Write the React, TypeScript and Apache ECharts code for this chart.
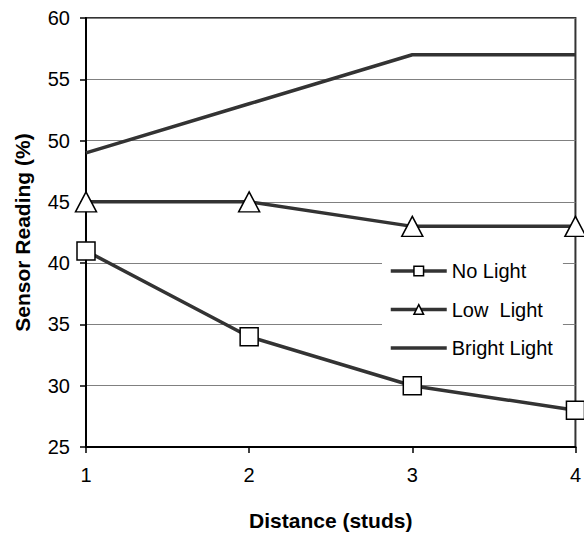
import React, { useEffect, useRef } from "react";
import * as echarts from "echarts";

const distances = ["1", "2", "3", "4"];
const noLight = [41, 34, 30, 28];
const lowLight = [45, 45, 43, 43];
const brightLight = [49, 53, 57, 57];
const yTicks = { min: 25, max: 60, interval: 5 };

const FONT = "'Liberation Sans', Arial, sans-serif";
const LINE = "#333333";

export default function App() {
  const ref = useRef<HTMLDivElement>(null);
  useEffect(() => {
    if (!ref.current) return;
    const chart = echarts.init(ref.current, null, { renderer: "svg" });
    const markerStyle = { color: "#ffffff", borderColor: "#000000", borderWidth: 1.5 };
    chart.setOption({
      animation: false,
      backgroundColor: "#ffffff",
      textStyle: { fontFamily: FONT },
      grid: {
        left: 86,
        right: 4,
        top: 18,
        bottom: 85,
        show: true,
        borderColor: "#333333",
        borderWidth: 2,
        backgroundColor: "transparent",
      },
      legend: {
        orient: "vertical",
        left: 382,
        top: 253,
        backgroundColor: "#ffffff",
        padding: [8, 10, 8, 7],
        itemWidth: 56,
        itemHeight: 12,
        itemGap: 18.5,
        lineStyle: { width: 3.5, color: LINE },
        itemStyle: { color: "#ffffff", borderColor: "#000000", borderWidth: 1.5 },
        textStyle: { fontSize: 20, color: "#000000", fontFamily: FONT },
        data: [
          { name: "No Light" },
          { name: "Low  Light" },
          { name: "Bright Light", itemStyle: { opacity: 0 } },
        ],
      },
      xAxis: {
        type: "category",
        data: distances,
        boundaryGap: false,
        name: "Distance (studs)",
        nameLocation: "middle",
        nameGap: 63,
        nameTextStyle: { fontSize: 21, fontWeight: "bold", color: "#000000", fontFamily: FONT },
        axisLine: { lineStyle: { color: "#000000", width: 2 } },
        axisTick: { show: true, length: 6, lineStyle: { color: "#000000", width: 1.5 } },
        axisLabel: { fontSize: 20, color: "#000000", margin: 18, fontFamily: FONT },
        splitLine: { show: false },
      },
      yAxis: {
        type: "value",
        min: yTicks.min,
        max: yTicks.max,
        interval: yTicks.interval,
        name: "Sensor Reading (%)",
        nameLocation: "middle",
        nameGap: 53,
        nameTextStyle: { fontSize: 21, fontWeight: "bold", color: "#000000", fontFamily: FONT },
        axisLine: { show: true, lineStyle: { color: "#000000", width: 2 } },
        axisTick: { show: true, length: 6, lineStyle: { color: "#000000", width: 1.5 } },
        axisLabel: { fontSize: 20, color: "#000000", margin: 16, fontFamily: FONT },
        splitLine: { show: true, lineStyle: { color: "#808080", width: 1 } },
      },
      series: [
        {
          name: "No Light",
          type: "line",
          data: noLight,
          color: LINE,
          symbol: "rect",
          symbolSize: 18,
          lineStyle: { color: LINE, width: 3.5 },
          itemStyle: markerStyle,
          z: 3,
        },
        {
          name: "Low  Light",
          type: "line",
          data: lowLight,
          color: LINE,
          symbol: "triangle",
          symbolSize: [21, 20],
          lineStyle: { color: LINE, width: 3.5 },
          itemStyle: markerStyle,
          z: 3,
        },
        {
          name: "Bright Light",
          type: "line",
          data: brightLight,
          color: LINE,
          symbol: "none",
          showSymbol: false,
          lineStyle: { color: LINE, width: 3.5 },
          z: 3,
        },
      ],
    });
    return () => chart.dispose();
  }, []);
  return (
    <div
      ref={ref}
      style={{ position: "fixed", left: 0, top: 0, width: 584, height: 536 }}
    />
  );
}
